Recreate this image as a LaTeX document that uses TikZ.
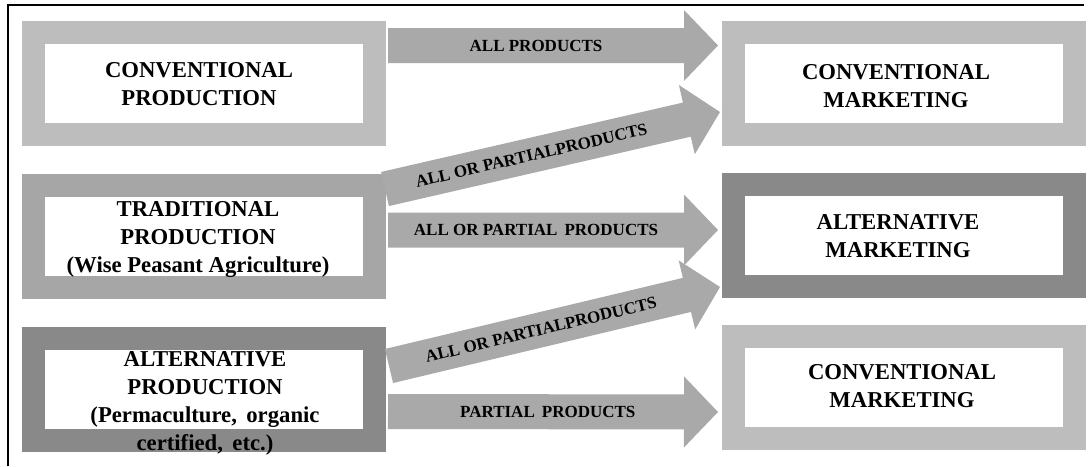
\documentclass[tikz,border=0pt]{standalone}
\usepackage{fontspec}
\setmainfont{Liberation Serif}
\usetikzlibrary{calc}

\definecolor{lightbox}{HTML}{BDBDBD}
\definecolor{midbox}{HTML}{A6A6A6}
\definecolor{darkbox}{HTML}{898989}
\definecolor{arrowfill}{HTML}{A9A9A9}

\tikzset{
  framebox/.style={draw=#1, line width=23pt, fill=white, minimum width=341pt,
    minimum height=102pt, inner sep=0pt},
  boxtext/.style={font=\fontsize{22.7}{28}\selectfont\bfseries, align=center, inner sep=0pt},
  arrowlabel/.style={font=\fontsize{17}{20}\selectfont\bfseries, inner sep=0pt},
}

% Block arrow from tail coordinate #1 to tip coordinate #2, label #3 at position #4 on the shaft
\newcommand\blockarrow[4]{%
  \coordinate (#1-neck) at ($(#2)!34pt!(#1)$);
  \fill[arrowfill]
    ($(#1)!17.5pt!90:(#2)$) -- ($(#1-neck)!17.5pt!-90:(#1)$) --
    ($(#1-neck)!35.5pt!-90:(#1)$) -- (#2) --
    ($(#1-neck)!35.5pt!90:(#1)$) -- ($(#1-neck)!17.5pt!90:(#1)$) --
    ($(#1)!17.5pt!-90:(#2)$) -- cycle;
  \path (#1) -- (#1-neck) node[pos=#4, sloped, arrowlabel] (#1-label) {#3};
}

\begin{document}
\begin{tikzpicture}[x=1pt, y=-1pt]
  \useasboundingbox (0,0) rectangle (1092,466);

  % open frame: top and left rules
  \draw[line width=2pt] (7.5,466) -- (7.5,5) -- (1084,5);

  % production boxes
  \node[framebox=lightbox] (cp) at (204,83.5) {};
  \node[framebox=midbox]   (tp) at (204,236) {};
  \node[framebox=darkbox]  (ap) at (204,389.5) {};

  % marketing boxes
  \node[framebox=lightbox] (cm1) at (904,83.5) {};
  \node[framebox=darkbox]  (am)  at (904,235) {};
  \node[framebox=lightbox] (cm2) at (904,387.5) {};

  % box texts
  \node[boxtext] (cp-text) at (199,84.5) {CONVENTIONAL\\PRODUCTION};
  \node[boxtext] (tp-text) at (198,239.5) {TRADITIONAL\\PRODUCTION\\(Wise Peasant Agriculture)};
  \node[boxtext] (ap-text) at (205,403.5) {ALTERNATIVE\\PRODUCTION\\(Permaculture,\ \,organic\\certified,\ \,etc.)};
  \node[boxtext] (cm1-text) at (896,86) {CONVENTIONAL\\MARKETING};
  \node[boxtext] (am-text)  at (898,236) {ALTERNATIVE\\MARKETING};
  \node[boxtext] (cm2-text) at (902,386) {CONVENTIONAL\\MARKETING};

  % arrow ends
  \coordinate (a1t) at ($(cp.east)+(2,-38)$);
  \coordinate (a1h) at ($(cm1.west)+(-4,-38)$);
  \coordinate (a2t) at ($(tp.east)+(-1,-47)$);
  \coordinate (a2h) at ($(cm1.west)+(-2,28.5)$);
  \coordinate (a3t) at ($(tp.east)+(2,-6)$);
  \coordinate (a3h) at ($(am.west)+(-4,-5)$);
  \coordinate (a4t) at ($(ap.east)+(3,-23.5)$);
  \coordinate (a4h) at ($(am.west)+(-2,52)$);
  \coordinate (a5t) at ($(ap.east)+(2,22)$);
  \coordinate (a5h) at ($(cm2.west)+(-4,24.5)$);

  % flows
  \blockarrow{a1t}{a1h}{ALL PRODUCTS}{0.5}
  \blockarrow{a2t}{a2h}{ALL OR PARTIALPRODUCTS}{0.485}
  \blockarrow{a3t}{a3h}{ALL OR PARTIAL\ \,PRODUCTS}{0.5}
  \blockarrow{a4t}{a4h}{ALL OR PARTIALPRODUCTS}{0.51}
  \blockarrow{a5t}{a5h}{PARTIAL\ \,PRODUCTS}{0.54}
\end{tikzpicture}
\end{document}
